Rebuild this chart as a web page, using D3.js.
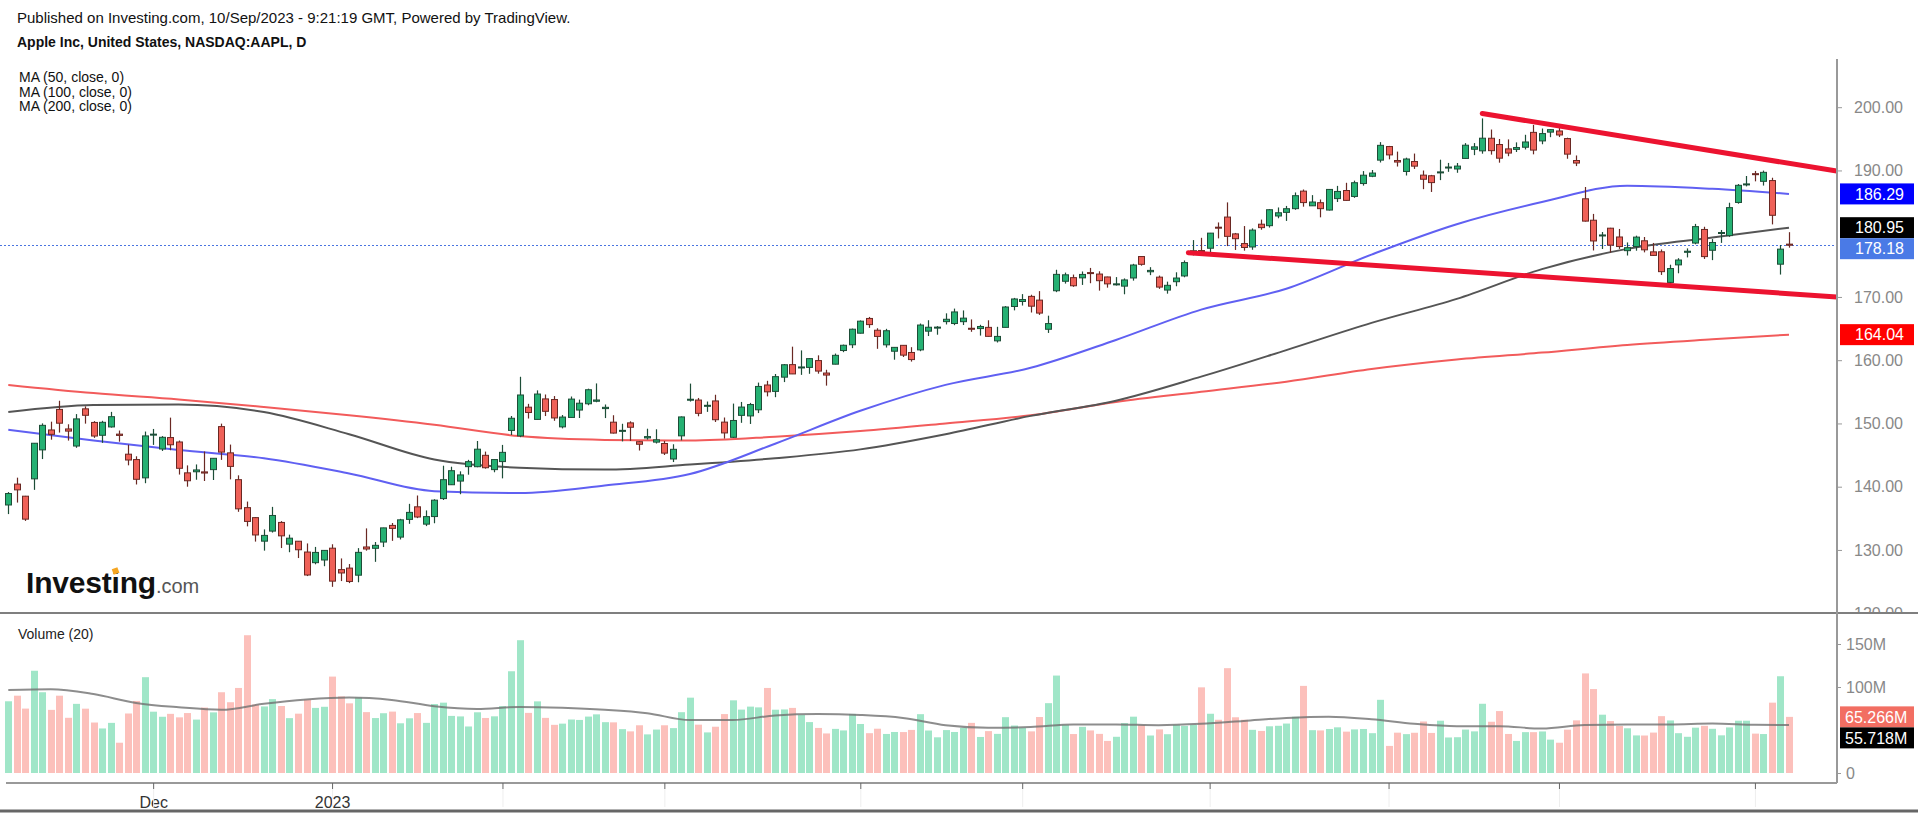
<!DOCTYPE html>
<html>
<head>
<meta charset="utf-8">
<script src="https://cdn.jsdelivr.net/npm/d3@7"></script>
<style>
body { margin: 0; background: #fff; }
svg { display: block; font-family: "Liberation Sans", Arial, sans-serif; }
</style>
</head>
<body>
<svg width="1918" height="814"></svg>
<script>
var width = 1918, height = 814;

// daily bars, 2022-11-07 .. 2023-09-08
var open = [137.11,140.41,138.50,141.24,145.82,148.97,152.22,149.13,146.43,152.31,150.16,148.13,149.45,148.31,145.14,144.29,141.40,
  148.21,145.96,147.77,147.07,142.19,142.36,142.34,142.70,149.50,145.35,141.11,136.69,135.11,131.39,132.98,134.35,130.92,131.38,129.67,127.99,128.41,
  130.28,126.89,127.13,126.01,130.47,130.26,131.25,133.88,132.03,134.83,136.82,134.08,135.28,138.12,140.31,140.89,143.17,143.16,144.96,142.70,
  143.97,148.90,148.03,152.57,150.64,153.88,153.78,149.46,150.95,152.12,153.11,153.51,152.35,150.20,148.87,150.09,147.11,147.71,147.05,
  146.83,144.38,148.04,153.79,153.70,152.81,153.56,150.21,147.81,151.28,151.19,152.16,156.08,155.07,157.32,159.30,158.83,158.86,159.94,157.97,159.37,161.53,162.44,
  164.27,166.60,164.74,162.43,161.42,162.35,161.22,161.63,164.59,165.09,166.10,165.80,166.09,165.05,165.00,165.19,163.06,165.19,168.49,
  169.28,170.09,169.50,164.89,170.98,172.48,173.05,173.02,173.85,173.62,173.16,171.99,171.71,173.00,176.39,173.98,173.13,171.09,172.41,173.32,176.96,177.33,
  177.70,181.03,182.63,179.97,178.44,177.90,181.50,181.27,182.80,183.37,183.96,186.73,184.41,184.90,183.74,185.55,186.83,185.89,187.93,189.08,191.63,
  193.78,191.57,189.84,191.41,189.26,189.16,189.68,190.50,190.23,191.90,193.35,193.10,195.09,194.10,193.41,193.33,193.67,196.02,194.67,196.06,
  196.24,195.04,191.57,185.52,182.13,179.69,180.87,179.48,177.32,177.97,178.88,177.13,177.14,172.30,175.07,177.06,178.52,180.67,177.38,180.09,179.70,184.94,187.84,
  189.49,188.28,188.40,175.18,178.35];
var high = [139.15,141.43,138.55,146.87,150.01,150.28,153.59,149.87,151.48,152.70,150.37,150.42,151.83,148.88,146.64,144.81,148.72,
  149.13,148.00,150.92,147.30,143.37,143.52,145.57,144.50,149.97,146.66,141.80,137.65,135.20,133.25,136.81,134.56,132.42,131.41,131.03,130.48,129.95,
  130.90,128.66,127.77,130.29,133.41,131.26,133.51,134.26,134.92,137.29,138.61,136.25,138.02,143.32,143.16,142.43,144.25,147.23,145.55,144.34,
  146.61,151.18,157.38,153.10,155.23,154.58,154.33,151.34,154.26,153.77,155.50,156.33,153.00,151.30,149.95,150.34,147.19,149.17,149.08,
  147.23,146.71,151.11,156.30,154.03,153.47,154.54,150.94,153.14,153.40,153.25,156.46,156.74,157.82,159.40,162.14,161.55,160.34,160.77,158.49,161.05,162.47,165.00,
  166.29,166.84,165.05,164.96,162.03,162.36,162.06,165.80,166.32,165.39,167.41,168.16,167.87,166.45,165.60,166.31,165.28,168.56,169.85,
  170.45,170.35,170.92,167.04,174.30,173.85,173.54,174.03,174.59,174.06,173.21,173.14,172.93,175.24,176.39,174.71,173.38,172.42,173.90,175.77,178.99,179.35,
  180.12,181.78,184.95,180.12,181.21,180.84,182.23,183.89,184.15,184.39,186.52,186.99,186.10,185.41,187.05,187.56,188.05,188.39,189.90,190.07,194.48,
  193.88,192.98,192.02,192.67,189.99,189.30,191.70,191.19,191.18,194.32,194.33,198.23,196.47,194.97,194.91,194.44,195.64,197.20,196.63,196.49,
  196.73,195.18,192.37,187.38,183.13,180.27,180.93,180.75,178.62,179.69,179.48,178.54,177.51,175.10,176.13,177.68,181.55,181.10,179.15,180.59,184.90,187.85,189.12,
  189.92,189.98,188.85,178.21,180.24];
var low = [135.67,137.49,134.59,139.50,144.37,147.43,148.56,147.29,146.15,149.97,147.72,146.93,149.34,147.12,143.38,140.35,140.55,
  146.61,145.65,145.77,141.92,140.00,141.10,140.90,141.06,144.24,141.16,136.03,133.73,131.32,129.89,132.75,130.30,129.64,128.72,125.87,127.73,127.43,
  124.17,125.08,124.76,124.89,129.89,128.12,130.46,131.44,131.66,134.13,135.03,133.77,134.22,137.90,140.30,138.81,141.90,143.08,142.85,142.28,
  141.32,148.17,147.83,150.78,150.64,151.17,150.42,149.22,150.92,150.86,152.88,153.35,150.85,148.41,147.16,147.24,145.72,147.45,146.83,
  145.01,143.90,147.33,153.46,151.13,151.83,150.23,147.61,147.70,150.10,149.92,151.64,154.28,154.15,156.54,157.81,157.68,157.85,157.87,155.98,159.35,161.27,161.91,
  164.22,165.11,161.80,162.00,160.08,160.51,159.78,161.42,163.82,164.03,165.65,165.54,165.56,164.49,163.89,163.73,162.80,165.19,167.88,
  168.64,167.54,167.16,164.31,170.76,172.11,171.60,171.90,172.17,171.00,171.47,171.80,170.42,172.58,174.94,173.45,171.28,170.52,171.69,173.11,176.57,176.76,
  176.93,179.26,178.04,177.43,177.32,177.46,180.63,180.97,182.44,182.02,183.78,184.27,184.41,182.59,183.67,185.01,185.23,185.67,187.60,188.94,191.26,
  191.76,190.62,189.20,190.24,187.04,186.60,188.47,189.78,189.63,191.81,192.42,192.65,192.50,191.23,192.25,192.92,193.32,192.55,194.14,195.26,
  195.28,191.85,190.69,181.92,177.35,177.58,177.01,177.60,176.55,177.31,177.05,176.50,173.48,171.96,173.74,176.25,178.33,176.01,175.82,178.55,179.50,184.74,187.48,
  188.28,187.61,181.47,173.54,177.79];
var close = [138.92,139.50,134.87,146.87,149.70,148.28,150.04,148.79,150.72,151.29,148.01,150.18,151.07,148.11,144.22,141.17,148.03,
  148.31,147.81,146.63,142.91,140.94,142.65,142.16,144.49,145.47,143.21,136.50,134.51,132.37,132.30,135.45,132.23,131.86,130.03,126.04,129.61,129.93,
  125.07,126.36,125.02,129.62,130.15,130.73,133.49,133.41,134.76,135.94,135.21,135.27,137.87,141.11,142.53,141.86,143.96,145.93,143.00,144.29,
  145.43,150.82,154.50,151.73,154.65,151.92,150.87,151.01,153.85,153.20,155.33,153.71,152.55,148.48,148.91,149.40,146.71,147.92,147.41,
  145.31,145.91,151.03,153.83,151.60,152.87,150.59,148.50,150.47,152.59,152.99,155.85,155.00,157.40,159.28,157.83,158.93,160.25,158.28,157.65,160.77,162.36,164.90,
  166.17,165.63,163.76,164.66,162.03,160.80,160.10,165.56,165.21,165.23,166.47,167.63,166.65,165.02,165.33,163.77,163.76,168.41,169.68,
  169.59,168.54,167.45,165.79,173.57,173.50,171.77,173.56,173.75,172.57,172.07,172.07,172.69,175.05,175.16,174.20,171.56,171.84,172.99,175.43,177.30,177.25,
  180.09,180.95,179.58,179.21,177.82,180.57,180.96,183.79,183.31,183.95,186.01,184.92,185.01,183.96,187.00,186.68,185.27,188.06,189.25,189.59,193.97,
  192.46,191.33,191.81,190.68,188.61,188.08,189.77,190.54,190.69,193.99,193.73,195.10,193.13,191.94,192.75,193.62,194.50,193.22,195.83,196.45,
  195.61,192.58,191.17,181.99,178.85,179.80,178.19,177.97,177.79,179.46,177.45,176.57,174.00,174.49,175.84,177.23,181.12,176.38,178.61,180.19,184.12,187.65,187.87,
  189.46,189.70,182.91,177.56,178.18];
// volume, millions
var volume = [83.4,89.9,74.9,118.9,93.9,73.4,89.9,64.2,80.4,74.8,58.7,51.8,58.3,35.2,69.2,83.8,111.4,
  71.3,65.4,68.8,64.7,69.7,62.1,76.1,70.5,93.9,82.3,98.9,160.2,79.6,77.4,85.9,77.9,63.8,69.0,85.4,75.7,77.0,
  112.1,89.1,81.0,87.8,70.8,63.9,69.5,71.4,57.8,63.6,69.7,58.3,80.2,81.8,66.4,65.8,54.1,70.6,64.0,65.9,
  77.7,118.3,154.4,69.9,83.3,64.1,56.0,57.4,62.2,61.7,65.6,68.2,59.1,58.9,51.0,48.4,55.5,44.9,50.5,
  55.5,52.2,70.7,87.6,56.2,47.2,53.8,68.5,84.5,73.7,77.2,76.3,98.9,73.6,73.9,75.7,67.6,59.2,52.4,46.0,51.3,49.5,68.7,
  57.0,46.3,51.5,45.4,47.7,47.6,50.1,68.4,49.4,41.5,49.9,47.7,52.5,58.3,41.9,48.7,45.5,64.9,55.2,
  52.5,48.4,65.1,81.2,113.3,56.0,45.3,53.7,49.5,45.5,37.3,42.1,58.0,65.5,55.8,43.6,50.7,45.1,56.1,54.8,56.0,99.6,
  68.9,61.9,121.9,64.8,61.9,50.2,48.9,54.3,54.9,57.5,65.4,101.3,49.8,49.5,51.2,53.1,48.1,50.7,51.2,46.3,85.1,
  31.5,46.9,45.2,46.8,59.9,46.6,60.8,41.3,41.6,50.5,48.4,80.5,59.6,72.0,45.4,37.3,47.5,47.5,48.3,38.8,
  35.2,50.4,61.2,115.8,97.6,67.8,60.4,54.7,52.0,43.7,43.6,47.0,66.1,61.1,46.3,42.1,52.7,54.9,51.4,43.8,53.0,60.8,60.8,
  45.8,45.3,81.8,112.5,65.266];

var maIdx = [0,10,20,30,40,50,60,70,80,90,100,110,120,130,140,150,160,170,180,190,200,209];
var ma50  = [149.0,147.3,145.8,144.5,142.1,139.3,139.0,140.2,142.0,146.8,152.0,156.1,158.8,163.2,168.0,171.3,176.7,181.5,185.0,187.6,187.1,186.29];
var ma100 = [151.8,152.9,153.0,151.8,148.3,144.3,143.0,142.7,143.5,144.5,145.9,148.3,151.2,153.6,157.4,161.6,165.9,169.7,174.4,177.6,179.4,180.95];
var ma200 = [156.1,154.8,153.8,152.6,151.3,149.8,148.0,147.4,147.3,147.9,148.8,150.0,151.3,153.4,155.0,156.6,158.6,160.1,161.2,162.4,163.3,164.04];
var volMaIdx = [0,5,10,15,20,25,30,35,40,45,50,55,60,65,70,75,80,85,90,95,100,105,110,115,120,125,130,135,140,145,150,155,160,165,170,175,180,185,190,195,200,205,209];
var volMa = [96.5,97.5,91.8,81.5,76.5,73.5,80.5,85.5,87.8,85.0,77.7,74.5,76.8,75.8,73.5,69.5,61.5,61.5,67.0,68.7,67.5,64.0,55.5,52.6,53.5,56.5,56.5,55.6,57.2,60.5,64.0,65.5,62.5,57.3,54.5,54.5,51.6,55.8,56.5,56.5,57.5,56.0,55.718];

// channel drawn on the chart: [start, end] in bar index / price
var trendIdx = [[173, 214.6], [138.5, 214.6]];
var trendPrice = [[199.0, 189.9], [177.0, 170.0]];

var monthIdx = [17,38,58,77,100,119,141,162,182,205];
var monthLabels = ["Dec","2023","","","","","","","",""];
var priceTicks = [120,130,140,150,160,170,190,200];   // 180 sits under the value tags
var volTicks = [0,100,150];
var lastClose = 178.18;

var priceTags = [
  {v: 186.29, bg: "#0000ff"},
  {v: 180.95, bg: "#000000"},
  {v: 178.18, bg: "#4a7ae6"},
  {v: 164.04, bg: "#ff0000"}];
var volTags = [
  {v: 65.266, bg: "#f26e62", txt: "65.266M"},
  {v: 55.718, bg: "#000000", txt: "55.718M"}];

var green = "#25b173", greenEdge = "#1d4d37", red = "#ef6158", redEdge = "#6a2823";

var svg = d3.select("svg");
svg.append("rect").attr("width", width).attr("height", height).attr("fill", "#fff");

var axisX = 1837, priceTop = 59, priceBottom = 613, volBottom = 783;

var x = d3.scaleLinear().domain([0, 209]).range([8.3, 1789]);
var y = d3.scaleLinear().domain([120, 200]).range([613.2, 107.2]);
var yv = d3.scaleLinear().domain([0, 150]).range([773, 644]);

var defs = svg.append("defs");
defs.append("clipPath").attr("id", "pclip").append("rect")
  .attr("x", 0).attr("y", priceTop).attr("width", axisX).attr("height", priceBottom - priceTop);
defs.append("clipPath").attr("id", "vclip").append("rect")
  .attr("x", 0).attr("y", priceBottom).attr("width", axisX).attr("height", volBottom - priceBottom);

// header
svg.append("text").attr("x", 17).attr("y", 23).attr("font-size", 15).attr("fill", "#111")
  .text("Published on Investing.com, 10/Sep/2023 - 9:21:19 GMT, Powered by TradingView.");
svg.append("text").attr("x", 17).attr("y", 47).attr("font-size", 14).attr("font-weight", "bold").attr("fill", "#111")
  .text("Apple Inc, United States, NASDAQ:AAPL, D");
["MA (50, close, 0)", "MA (100, close, 0)", "MA (200, close, 0)"].forEach(function(t, i) {
  svg.append("text").attr("x", 19).attr("y", 82 + i * 14.5).attr("font-size", 14).attr("fill", "#111").text(t);
});

// price panel
var pg = svg.append("g").attr("clip-path", "url(#pclip)");

pg.append("line").attr("x1", 0).attr("x2", axisX)
  .attr("y1", Math.round(y(lastClose)) + 0.5).attr("y2", Math.round(y(lastClose)) + 0.5)
  .attr("stroke", "#4a74e0").attr("stroke-dasharray", "2,2").attr("stroke-width", 1);

var maLine = d3.line().x(function(d) { return x(d[0]); }).y(function(d) { return y(d[1]); }).curve(d3.curveMonotoneX);
[[ma200, "#f25b5b"], [ma100, "#555555"], [ma50, "#6060f2"]].forEach(function(m) {
  pg.append("path").attr("d", maLine(d3.zip(maIdx, m[0])))
    .attr("fill", "none").attr("stroke", m[1]).attr("stroke-width", 2);
});

var bars = d3.range(close.length);
var candle = pg.selectAll("g.candle").data(bars).enter().append("g").attr("class", "candle");
candle.append("line")
  .attr("x1", function(i) { return Math.round(x(i)) + 0.5; })
  .attr("x2", function(i) { return Math.round(x(i)) + 0.5; })
  .attr("y1", function(i) { return y(high[i]); })
  .attr("y2", function(i) { return y(low[i]); })
  .attr("stroke", function(i) { return close[i] >= open[i] ? greenEdge : redEdge; })
  .attr("stroke-width", 1.2);
candle.append("rect")
  .attr("x", function(i) { return Math.round(x(i)) - 2.5; })
  .attr("width", 6)
  .attr("y", function(i) { return y(Math.max(open[i], close[i])); })
  .attr("height", function(i) { return Math.max(1, Math.abs(y(open[i]) - y(close[i]))); })
  .attr("fill", function(i) { return close[i] >= open[i] ? green : red; })
  .attr("stroke", function(i) { return close[i] >= open[i] ? greenEdge : redEdge; })
  .attr("stroke-width", 1);

// channel lines
trendIdx.forEach(function(t, k) {
  pg.append("line")
    .attr("x1", x(t[0])).attr("x2", x(t[1]))
    .attr("y1", y(trendPrice[k][0])).attr("y2", y(trendPrice[k][1]))
    .attr("stroke", "#ec1330").attr("stroke-width", 5).attr("stroke-linecap", "round");
});

// Investing.com logo
var logo = svg.append("text").attr("x", 26).attr("y", 593);
logo.append("tspan").attr("font-size", 30).attr("font-weight", "bold").attr("letter-spacing", -0.2).attr("fill", "#111").text("Investing");
logo.append("tspan").attr("font-size", 20).attr("fill", "#555").text(".com");
var ext = logo.node().getExtentOfChar(6);
svg.append("rect").attr("x", ext.x + ext.width / 2 - 3).attr("y", 593 - 25).attr("width", 6).attr("height", 6)
  .attr("fill", "#f5a623").attr("transform", "rotate(-20," + (ext.x + ext.width / 2) + "," + (593 - 22) + ")");

// volume panel
var vg = svg.append("g").attr("clip-path", "url(#vclip)");
vg.selectAll("rect.vol").data(bars).enter().append("rect").attr("class", "vol")
  .attr("x", function(i) { return Math.round(x(i)) - 3; })
  .attr("width", 7)
  .attr("y", function(i) { return yv(volume[i]); })
  .attr("height", function(i) { return yv(0) - yv(volume[i]); })
  .attr("fill", function(i) { return close[i] >= open[i] ? "#a0e6c8" : "#fcc0bb"; });

var vLine = d3.line().x(function(d) { return x(d[0]); }).y(function(d) { return yv(d[1]); }).curve(d3.curveMonotoneX);
vg.append("path").attr("d", vLine(d3.zip(volMaIdx, volMa)))
  .attr("fill", "none").attr("stroke", "#707070").attr("stroke-opacity", 0.8).attr("stroke-width", 2);

svg.append("text").attr("x", 18).attr("y", 639).attr("font-size", 14).attr("fill", "#222").text("Volume (20)");

// frame lines
svg.append("line").attr("x1", 0).attr("x2", width).attr("y1", priceBottom).attr("y2", priceBottom)
  .attr("stroke", "#555").attr("stroke-width", 1.5);
svg.append("line").attr("x1", 6).attr("x2", axisX).attr("y1", volBottom).attr("y2", volBottom)
  .attr("stroke", "#777").attr("stroke-width", 1.5);
svg.append("line").attr("x1", axisX).attr("x2", axisX).attr("y1", priceTop).attr("y2", volBottom)
  .attr("stroke", "#999").attr("stroke-width", 2);
svg.append("line").attr("x1", 0).attr("x2", width).attr("y1", 811).attr("y2", 811)
  .attr("stroke", "#666").attr("stroke-width", 3);

// price axis
var pAxis = svg.append("g").attr("transform", "translate(" + axisX + ",0)")
  .call(d3.axisRight(y).tickValues(priceTicks).tickFormat(d3.format(".2f")).tickSize(5).tickPadding(12));
pAxis.select(".domain").remove();
pAxis.selectAll("line").attr("stroke", "#999");
pAxis.selectAll("text").attr("font-size", 16).attr("fill", "#888").attr("font-family", null);
defs.append("clipPath").attr("id", "aclip").append("rect")
  .attr("x", -5).attr("y", 0).attr("width", 100).attr("height", priceBottom - 1);
pAxis.attr("clip-path", "url(#aclip)");

// volume axis
var vAxis = svg.append("g").attr("transform", "translate(" + axisX + ",0)")
  .call(d3.axisRight(yv).tickValues(volTicks).tickFormat(function(d) { return d === 0 ? "0" : d + "M"; }).tickSize(4).tickPadding(5));
vAxis.select(".domain").remove();
vAxis.selectAll("line").attr("stroke", "#999");
vAxis.selectAll("text").attr("font-size", 16).attr("fill", "#888").attr("font-family", null);

// last value tags
function tags(list, scale, tx, fmt) {
  var h = 21, prev = -1e9;
  list.map(function(d) { return {d: d, yy: scale(d.v)}; })
    .sort(function(a, b) { return a.yy - b.yy; })
    .forEach(function(t) {
      if (t.yy < prev + h) t.yy = prev + h;
      prev = t.yy;
      svg.append("rect").attr("x", axisX + 3).attr("y", t.yy - h / 2).attr("width", 74).attr("height", h).attr("fill", t.d.bg);
      svg.append("text").attr("x", tx).attr("y", t.yy).attr("dy", "0.36em").attr("font-size", 16)
        .attr("fill", "#fff").text(fmt(t.d));
    });
}
tags(priceTags, y, 1855, function(d) { return d.v.toFixed(2); });
tags(volTags, yv, 1845, function(d) { return d.txt; });

// time axis
var xAxis = svg.append("g").attr("transform", "translate(0," + volBottom + ")")
  .call(d3.axisBottom(x).tickValues(monthIdx).tickFormat(function(d, i) { return monthLabels[i]; }).tickSize(6).tickPadding(8));
xAxis.select(".domain").remove();
xAxis.selectAll("line").attr("stroke", "#666");
xAxis.selectAll("text").attr("font-size", 16).attr("fill", "#333").attr("font-family", null);
xAxis.selectAll(".tick").append("line").attr("y1", 6).attr("y2", 24).attr("stroke", "#eee");
</script>
</body>
</html>
